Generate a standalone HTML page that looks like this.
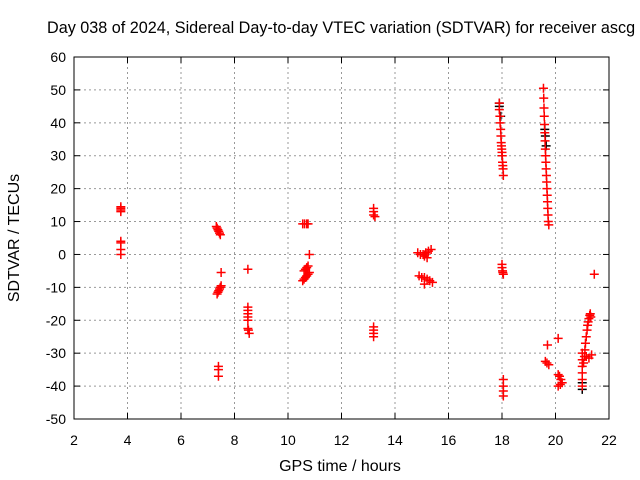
<!DOCTYPE html>
<html><head><meta charset="utf-8"><style>
body{margin:0;background:#fff}
svg{display:block;font-family:"Liberation Sans",sans-serif}
</style></head><body>
<svg id="chart" width="640" height="480">
<rect width="640" height="480" fill="#fff"/>
<text x="47" y="33" font-size="16.2">Day 038 of 2024, Sidereal Day-to-day VTEC variation (SDTVAR) for receiver ascg</text>
<g id="grid"></g><g id="ticks"></g><g id="marks"></g>
<rect x="74" y="57" width="535" height="362" fill="none" stroke="#000" stroke-width="1"/>
<text x="340" y="471" font-size="16" text-anchor="middle">GPS time / hours</text>
<text transform="translate(19,238) rotate(-90)" font-size="16" text-anchor="middle">SDTVAR / TECUs</text>
</svg>
<script>
const xTicks=[2,4,6,8,10,12,14,16,18,20,22];
const yTicks=[-50,-40,-30,-20,-10,0,10,20,30,40,50,60];
const redX=[3.75,3.75,3.75,3.75,3.75,3.75,3.75,3.75,
7.32,7.35,7.38,7.41,7.44,7.47,7.5,7.35,7.38,7.41,7.44,7.47,7.5,7.4,7.4,7.4,
8.5,8.5,8.5,8.5,8.5,8.5,8.5,8.52,8.55,
10.55,10.62,10.7,10.75,10.8,10.6,10.65,10.7,10.75,10.55,10.6,10.65,10.7,10.75,10.8,
13.2,13.2,13.2,13.25,13.2,13.2,13.2,13.2,
14.85,14.95,15.05,15.15,15.25,15.35,15.1,15.2,14.9,15.0,15.1,15.2,15.3,15.4,15.1,
17.9,17.9,17.92,17.93,17.95,17.96,17.97,17.98,17.99,18.0,18.01,18.02,18.03,18.04,18.05,
18.0,18.0,18.02,18.03,18.05,18.05,18.05,18.05,18.05,
19.55,19.56,19.57,19.58,19.59,19.6,19.61,19.62,19.63,19.64,19.65,19.66,19.67,19.68,19.69,19.7,19.71,19.72,19.73,19.75,
19.7,19.62,19.68,19.75,20.1,20.1,20.15,20.2,20.1,20.18,20.25,
21.0,21.0,21.0,21.0,21.0,21.0,21.05,21.08,21.1,21.12,21.15,21.18,21.2,21.22,21.25,21.28,21.3,21.32,21.15,21.25,21.35,21.45];
const redY=[14.5,14,13.5,13,4,3.5,1.5,0,
8.5,8,7.5,7,6.5,6,-5.5,-12,-11.5,-11,-10.5,-10,-9.5,-34,-35,-37,
-4.5,-16,-17,-18,-19,-20,-22.5,-23,-24,
9.3,9.3,9.3,9.3,0,-5,-4.5,-4,-3.5,-8,-7.5,-7,-6.5,-6,-5.5,
14,13,12,11.5,-22,-23,-24,-25,
0.5,0,0,0.5,1,1.5,-0.5,-1,-6.5,-7,-7,-7.5,-8,-8.5,-9,
46,44,42,40,38,36,34,33,32,31,30,28,27,26,24,
-3,-4,-5,-5.5,-6,-38,-40,-41.5,-43,
50.5,47.5,44.5,42,39.5,37,34.5,32,30,28,26,24,22,20,18,16,14,12,10,9,
-27.5,-32.5,-33,-33.5,-25.5,-36.5,-37,-38,-40,-39.5,-39,
-30,-32,-34,-36,-38,-40,-33,-31,-29,-27,-25,-23,-21.5,-20.5,-19.5,-18.5,-18,-19,-31,-31.5,-30.5,-6];
const blackX=[17.9,17.9,17.95,18.0,19.6,19.62,19.65,21.0,21.0];
const blackY=[46,45,42,30,38,36,33,-41,-39];
const NS="http://www.w3.org/2000/svg";
const L=74,R=609,T=57,B=419;
function sx(v){return L+(v-2)/20*(R-L);}
function sy(v){return B-(v+50)/110*(B-T);}
function mk(t,a,p){const e=document.createElementNS(NS,t);for(const k in a)e.setAttribute(k,a[k]);p.appendChild(e);return e;}
const grid=document.getElementById('grid'),ticks=document.getElementById('ticks'),marks=document.getElementById('marks');
xTicks.forEach(v=>{const x=sx(v);
 if(v>2&&v<22){const g=mk('line',{x1:x,x2:x,y1:T,y2:B,stroke:'#999','stroke-dasharray':'2,3'},grid);
 
 }
 mk('line',{x1:x,x2:x,y1:B,y2:B-6,stroke:'#000'},ticks);mk('line',{x1:x,x2:x,y1:T,y2:T+6,stroke:'#000'},ticks);
 const t=mk('text',{x:x,y:B+26,'font-size':14,'text-anchor':'middle'},ticks);t.textContent=v;
 
 });
yTicks.forEach(v=>{const y=sy(v);
 if(v>-50&&v<60){const g=mk('line',{x1:L,x2:R,y1:y,y2:y,stroke:'#999','stroke-dasharray':'2,3'},grid);
 
 }
 mk('line',{x1:L,x2:L+6,y1:y,y2:y,stroke:'#000'},ticks);mk('line',{x1:R,x2:R-6,y1:y,y2:y,stroke:'#000'},ticks);
 const t=mk('text',{x:L-8,y:y+5,'font-size':14,'text-anchor':'end'},ticks);t.textContent=v;
 
 });
function plus(x,y,c,name){const p=mk('path',{d:`M${x-4.5},${y}h9M${x},${y-4.5}v9`,stroke:c,'stroke-width':1.5,fill:'none'},marks);
 
 }
blackX.forEach((v,i)=>plus(sx(v),sy(blackY[i]),'#000','black-point'));
redX.forEach((v,i)=>plus(sx(v),sy(redY[i]),'#f00','red-point'));
</script>
</body></html>
